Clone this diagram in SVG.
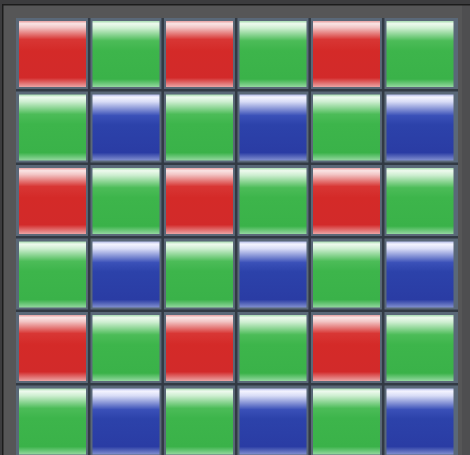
<svg xmlns="http://www.w3.org/2000/svg" width="470" height="455" viewBox="0 0 470 455">
<defs>
<linearGradient id="gR" x1="0" y1="0" x2="0" y2="1">
<stop offset="0" stop-color="#e8a0a0"/><stop offset="0.04" stop-color="#fae4e4"/><stop offset="0.1" stop-color="#f2c4c4"/><stop offset="0.28" stop-color="#d83634"/><stop offset="0.45" stop-color="#d42a28"/><stop offset="0.86" stop-color="#d22a2a"/><stop offset="1" stop-color="#eca4a4"/>
</linearGradient>
<linearGradient id="gG" x1="0" y1="0" x2="0" y2="1">
<stop offset="0" stop-color="#a8dcb0"/><stop offset="0.04" stop-color="#eefaee"/><stop offset="0.11" stop-color="#cdeed0"/><stop offset="0.3" stop-color="#4cbc58"/><stop offset="0.45" stop-color="#3db54b"/><stop offset="0.88" stop-color="#3ab249"/><stop offset="1" stop-color="#94d8a0"/>
</linearGradient>
<linearGradient id="gB" x1="0" y1="0" x2="0" y2="1">
<stop offset="0" stop-color="#b4bce8"/><stop offset="0.04" stop-color="#f4f4ff"/><stop offset="0.11" stop-color="#d8dcf6"/><stop offset="0.32" stop-color="#3a50b8"/><stop offset="0.46" stop-color="#2c42aa"/><stop offset="0.88" stop-color="#2a3ca4"/><stop offset="1" stop-color="#8290d0"/>
</linearGradient>
<style>
.cell{fill:#5a6878}
.r{fill:url(#gR)}
.g{fill:url(#gG)}
.b{fill:url(#gB)}
.gap{stroke:#323a44;stroke-width:2.5}
</style>
</defs>
<rect x="0" y="0" width="470" height="455" fill="#565657"/>
<rect x="462" y="0" width="8" height="455" fill="#4e4e50"/>
<rect x="0" y="0" width="470" height="4" fill="#3c3c3e"/>
<rect x="0" y="4" width="470" height="1.5" fill="#1c1c1c"/>
<rect x="0" y="0" width="2" height="455" fill="#3c3c3e"/>
<rect x="2" y="4" width="1.5" height="451" fill="#1c1c1c"/>
<rect class="cell" x="16" y="18" width="442" height="440"/>
<g id="connectors">
<line class="gap" x1="89.2" y1="18" x2="89.2" y2="455"/>
<line class="gap" x1="162.7" y1="18" x2="162.7" y2="455"/>
<line class="gap" x1="236.2" y1="18" x2="236.2" y2="455"/>
<line class="gap" x1="309.7" y1="18" x2="309.7" y2="455"/>
<line class="gap" x1="383.2" y1="18" x2="383.2" y2="455"/>
<line class="gap" x1="16" y1="90.2" x2="458" y2="90.2"/>
<line class="gap" x1="16" y1="163.7" x2="458" y2="163.7"/>
<line class="gap" x1="16" y1="237.2" x2="458" y2="237.2"/>
<line class="gap" x1="16" y1="310.7" x2="458" y2="310.7"/>
<line class="gap" x1="16" y1="384.2" x2="458" y2="384.2"/>
</g>
<g id="row1">
<rect id="p11" class="r" x="19" y="21" width="67" height="66"/>
<rect id="p12" class="g" x="92.5" y="21" width="67" height="66"/>
<rect id="p13" class="r" x="166" y="21" width="67" height="66"/>
<rect id="p14" class="g" x="239.5" y="21" width="67" height="66"/>
<rect id="p15" class="r" x="313" y="21" width="67" height="66"/>
<rect id="p16" class="g" x="386.5" y="21" width="67" height="66"/>
</g>
<g id="row2">
<rect id="p21" class="g" x="19" y="94.5" width="67" height="66"/>
<rect id="p22" class="b" x="92.5" y="94.5" width="67" height="66"/>
<rect id="p23" class="g" x="166" y="94.5" width="67" height="66"/>
<rect id="p24" class="b" x="239.5" y="94.5" width="67" height="66"/>
<rect id="p25" class="g" x="313" y="94.5" width="67" height="66"/>
<rect id="p26" class="b" x="386.5" y="94.5" width="67" height="66"/>
</g>
<g id="row3">
<rect id="p31" class="r" x="19" y="168" width="67" height="66"/>
<rect id="p32" class="g" x="92.5" y="168" width="67" height="66"/>
<rect id="p33" class="r" x="166" y="168" width="67" height="66"/>
<rect id="p34" class="g" x="239.5" y="168" width="67" height="66"/>
<rect id="p35" class="r" x="313" y="168" width="67" height="66"/>
<rect id="p36" class="g" x="386.5" y="168" width="67" height="66"/>
</g>
<g id="row4">
<rect id="p41" class="g" x="19" y="241.5" width="67" height="66"/>
<rect id="p42" class="b" x="92.5" y="241.5" width="67" height="66"/>
<rect id="p43" class="g" x="166" y="241.5" width="67" height="66"/>
<rect id="p44" class="b" x="239.5" y="241.5" width="67" height="66"/>
<rect id="p45" class="g" x="313" y="241.5" width="67" height="66"/>
<rect id="p46" class="b" x="386.5" y="241.5" width="67" height="66"/>
</g>
<g id="row5">
<rect id="p51" class="r" x="19" y="315" width="67" height="66"/>
<rect id="p52" class="g" x="92.5" y="315" width="67" height="66"/>
<rect id="p53" class="r" x="166" y="315" width="67" height="66"/>
<rect id="p54" class="g" x="239.5" y="315" width="67" height="66"/>
<rect id="p55" class="r" x="313" y="315" width="67" height="66"/>
<rect id="p56" class="g" x="386.5" y="315" width="67" height="66"/>
</g>
<g id="row6">
<rect id="p61" class="g" x="19" y="388.5" width="67" height="66"/>
<rect id="p62" class="b" x="92.5" y="388.5" width="67" height="66"/>
<rect id="p63" class="g" x="166" y="388.5" width="67" height="66"/>
<rect id="p64" class="b" x="239.5" y="388.5" width="67" height="66"/>
<rect id="p65" class="g" x="313" y="388.5" width="67" height="66"/>
<rect id="p66" class="b" x="386.5" y="388.5" width="67" height="66"/>
</g>
</svg>
